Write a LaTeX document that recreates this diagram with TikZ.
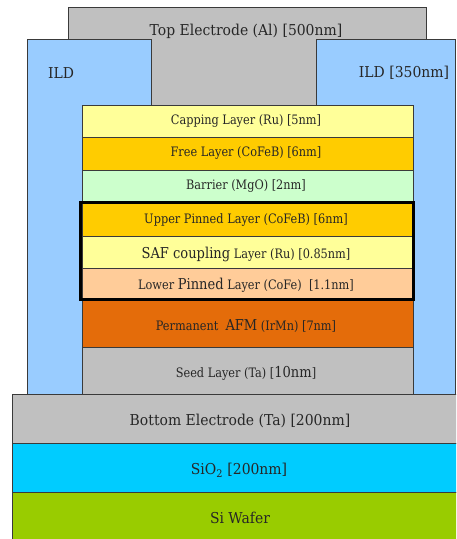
\documentclass[tikz,border=0pt]{standalone}
\usepackage{fontspec}
\setmainfont[FakeStretch=0.93]{DejaVu Serif}
\newfontfamily\stackfont[FakeStretch=0.87]{DejaVu Serif}
\definecolor{elgray}{HTML}{C0C0C0}
\definecolor{ildblue}{HTML}{99CCFF}
\definecolor{capyel}{HTML}{FFFF99}
\definecolor{freeor}{HTML}{FFCC00}
\definecolor{barg}{HTML}{CCFFCC}
\definecolor{peach}{HTML}{FFCC99}
\definecolor{afmor}{HTML}{E46C0A}
\definecolor{sioblue}{HTML}{00CCFF}
\definecolor{sigreen}{HTML}{99CC00}
\definecolor{txt}{HTML}{262626}
\definecolor{edge}{HTML}{3A3A3A}
\begin{document}
\begin{tikzpicture}[x=1pt,y=-1pt,
  layer/.style={draw=edge, line width=0.9pt},
  big/.style={text=txt, inner sep=0pt, font=\fontsize{15}{17}\selectfont},
  small/.style={text=txt, inner sep=0pt, font=\stackfont\fontsize{13}{15}\selectfont}]
\useasboundingbox (0,0) rectangle (456,539);
\clip (0,0) rectangle (456,539);
% top electrode
\draw[layer, fill=elgray] (68,7) rectangle (426,120);
% ILD
\draw[layer, fill=ildblue] (27,39) rectangle (151,394);
\draw[layer, fill=ildblue] (316,39) rectangle (455,394);
% stack
\draw[layer, fill=capyel] (82,105) rectangle (413,137);
\draw[layer, fill=freeor] (82,137) rectangle (413,170);
\draw[layer, fill=barg] (82,170) rectangle (413,202);
\draw[layer, fill=freeor] (82,202) rectangle (413,236);
\draw[layer, fill=capyel] (82,236) rectangle (413,268);
\draw[layer, fill=peach] (82,268) rectangle (413,300);
\draw[layer, fill=afmor] (82,300) rectangle (413,347);
\draw[layer, fill=elgray] (82,347) rectangle (413,394);
\draw[line width=3pt] (80.5,202.5) rectangle (413.5,299.5);
% substrate
\draw[layer, fill=elgray] (12,394) rectangle (470,443);
\draw[layer, fill=sioblue] (12,443) rectangle (470,492);
\draw[layer, fill=sigreen] (12,492) rectangle (470,560);
% labels
\node[big] (top) at (246,31) {Top Electrode (Al) [500nm]};
\node[big] (ildl) at (61,73) {ILD};
\node[big] (ildr) at (404,73) {ILD [350nm]};
\node[small] (cap) at (246,121) {Capping Layer (Ru) [5nm]};
\node[small] (free) at (246,153) {Free Layer (CoFeB) [6nm]};
\node[small] (bar) at (246,186.5) {Barrier (MgO) [2nm]};
\node[small] (upp) at (246,220) {Upper Pinned Layer (CoFeB) [6nm]};
\node[small] (saf) at (246,254) {{\fontsize{15}{17}\selectfont SAF coupling} Layer (Ru) [0.85nm]};
\node[small] (low) at (246,285.5) {Lower {\fontsize{15}{17}\selectfont Pinned} Layer (CoFe)\ \ [1.1nm]};
\node[small] (afm) at (246,326.5) {Permanent\ \ {\fontsize{15}{17}\selectfont AFM} (IrMn) [7nm]};
\node[small] (seed) at (246,373) {Seed Layer (Ta) [{\fontsize{15}{17}\selectfont 10nm}]};
\node[big] (bot) at (240,420.5) {Bottom Electrode (Ta) [200nm]};
\node[big] (sio) at (239,470) {SiO\textsubscript{2} [200nm]};
\node[big] (si) at (240,517.5) {Si Wafer};
\end{tikzpicture}
\end{document}
